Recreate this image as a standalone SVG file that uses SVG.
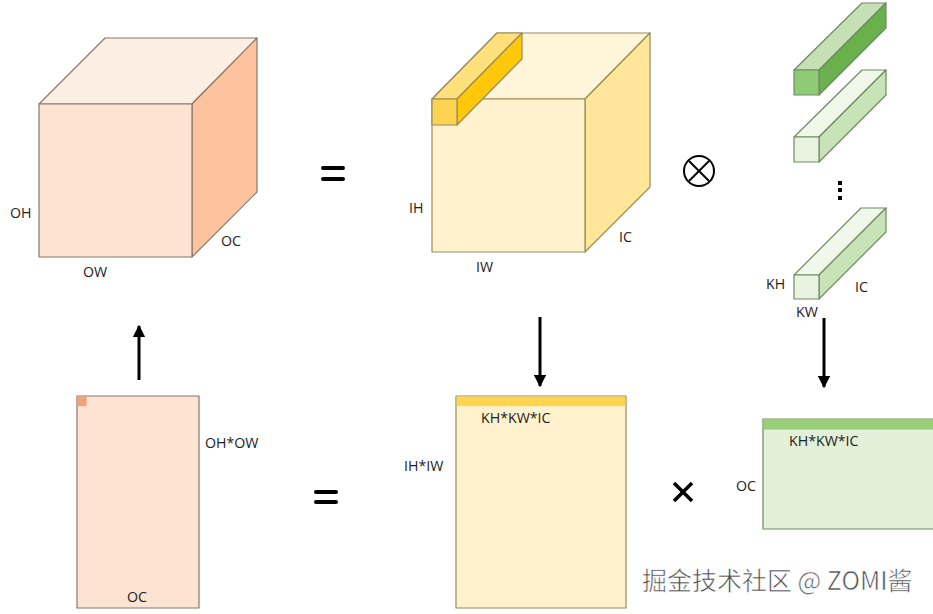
<svg xmlns="http://www.w3.org/2000/svg" width="933" height="614" viewBox="0 0 933 614">
<defs>
<style>
.lbl{font-family:"Open Sans","Noto Sans",sans-serif;font-size:14.2px;fill:#222}
.o{stroke:#8a776b;stroke-width:1.2;stroke-linejoin:round}
.y{stroke:#9a8a5a;stroke-width:1.2;stroke-linejoin:round}
.g{stroke:#6f8a62;stroke-width:1.2;stroke-linejoin:round}
.op{stroke:#000;stroke-width:4;stroke-linecap:round;fill:none}
.conn{stroke:#000;stroke-width:3;fill:none}
</style>
<marker id="ah" viewBox="0 0 10 10" refX="9" refY="5" markerWidth="4.2" markerHeight="4.2" orient="auto" markerUnits="strokeWidth">
<path d="M0,0 L10,5 L0,10 Z" fill="#000"/>
</marker>
</defs>
<rect width="933" height="614" fill="#fff"/>

<g id="output-cube">
<polygon class="o" points="39,104 105,38 257,38 192,104" fill="#fdeee3"/>
<polygon class="o" points="192,104 257,38 257,192 192,257" fill="#fcc39e"/>
<rect class="o" x="39" y="104" width="153" height="153" fill="#fde4d2"/>
<text class="lbl" x="10" y="218">OH</text>
<text class="lbl" x="221" y="246">OC</text>
<text class="lbl" x="83" y="277">OW</text>
</g>

<g id="input-cube">
<polygon class="y" points="432,99 497,33 650,33 585,99" fill="#fff5d9"/>
<polygon class="y" points="585,99 650,33 650,187 585,252" fill="#ffe699"/>
<rect class="y" x="432" y="99" width="153" height="153" fill="#fff2cc"/>
<polygon class="y" points="432,99 497,33 522,33 457,99" fill="#ffe07a"/>
<polygon class="y" points="457,99 522,33 522,59 457,125" fill="#ffc80a"/>
<rect class="y" x="432" y="99" width="25" height="26" fill="#fdd452"/>
<text class="lbl" x="409" y="213">IH</text>
<text class="lbl" x="619" y="242">IC</text>
<text class="lbl" x="476" y="272">IW</text>
</g>

<g id="kernel-1">
<polygon class="g" points="794,70 862,3 886,3 819,70" fill="#c5e0b4"/>
<polygon class="g" points="819,70 886,3 886,28 819,95" fill="#6ab04c"/>
<rect class="g" x="794" y="70" width="25" height="25" fill="#8fcb74"/>
</g>
<g id="kernel-2">
<polygon class="g" points="794,137 862,70 886,70 819,137" fill="#f0f8ea"/>
<polygon class="g" points="819,137 886,70 886,95 819,162" fill="#c8e3b8"/>
<rect class="g" x="794" y="137" width="25" height="25" fill="#e8f4df"/>
</g>
<g id="kernel-dots">
<rect x="838" y="181" width="4" height="4" fill="#000"/>
<rect x="838" y="188" width="4" height="4" fill="#000"/>
<rect x="838" y="196" width="4" height="4" fill="#000"/>
</g>
<g id="kernel-n">
<polygon class="g" points="794,275 861,208 886,208 819,275" fill="#f0f8ea"/>
<polygon class="g" points="819,275 886,208 886,232 819,299" fill="#c8e3b8"/>
<rect class="g" x="794" y="275" width="25" height="24" fill="#e8f4df"/>
<text class="lbl" x="766" y="289">KH</text>
<text class="lbl" x="855" y="292">IC</text>
<text class="lbl" x="796" y="317">KW</text>
</g>

<g id="output-matrix">
<rect class="o" x="77" y="396" width="122" height="212" fill="#fde4d2"/>
<rect x="77.6" y="396.6" width="9" height="9.5" fill="#f4a07a"/>
<text class="lbl" x="205" y="448">OH*OW</text>
<text class="lbl" x="127" y="602">OC</text>
</g>

<g id="input-matrix">
<rect class="y" x="456" y="396" width="170" height="212" fill="#fff2cc"/>
<rect x="456.6" y="396.6" width="168.8" height="9.5" fill="#ffd54f"/>
<text class="lbl" x="481" y="423">KH*KW*IC</text>
<text class="lbl" x="404" y="471">IH*IW</text>
</g>

<g id="kernel-matrix">
<rect class="g" x="763" y="419" width="172" height="110" fill="#e2efd9"/>
<rect x="763.6" y="419.6" width="170" height="10" fill="#97d077"/>
<text class="lbl" x="789" y="446">KH*KW*IC</text>
<text class="lbl" x="736" y="491">OC</text>
</g>

<g id="operators">
<line class="op" x1="323" y1="168" x2="343" y2="168"/>
<line class="op" x1="323" y1="179" x2="343" y2="179"/>
<line class="op" x1="316" y1="492" x2="336" y2="492"/>
<line class="op" x1="316" y1="502" x2="336" y2="502"/>
<circle cx="699" cy="171" r="15" fill="none" stroke="#000" stroke-width="2"/>
<line x1="689" y1="161" x2="709" y2="181" stroke="#000" stroke-width="2"/>
<line x1="709" y1="161" x2="689" y2="181" stroke="#000" stroke-width="2"/>
<line x1="674" y1="483" x2="692" y2="501" stroke="#000" stroke-width="3.5"/>
<line x1="692" y1="483" x2="674" y2="501" stroke="#000" stroke-width="3.5"/>
</g>

<g id="connectors">
<line class="conn" x1="139" y1="380" x2="139" y2="326" marker-end="url(#ah)"/>
<line class="conn" x1="540" y1="317" x2="540" y2="386" marker-end="url(#ah)"/>
<line class="conn" x1="824" y1="318" x2="824" y2="387" marker-end="url(#ah)"/>
</g>

<g id="watermark">
<text x="642" y="590" font-family="'Noto Sans CJK SC','Noto Sans',sans-serif" font-size="25" fill="#4a4a4a" stroke="#ffffff" stroke-width="0.6">掘金技术社区 @ ZOMI酱</text>
</g>
</svg>
